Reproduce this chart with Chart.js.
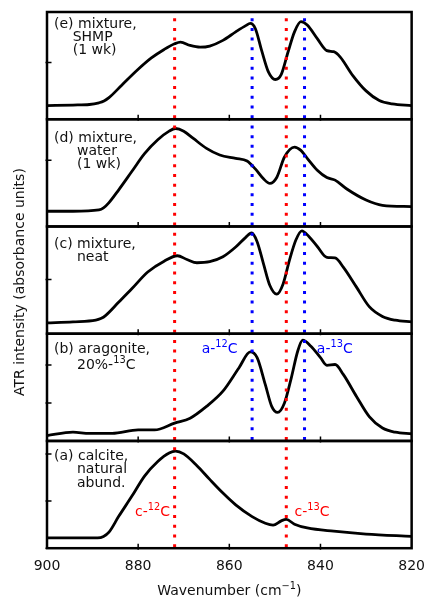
<!DOCTYPE html>
<html>
<head>
<meta charset="utf-8">
<script src="https://cdn.jsdelivr.net/npm/chart.js@4.4.1/dist/chart.umd.min.js"></script>
<style>
  body { margin: 0; background: #fff; }
</style>
</head>
<body>
<canvas id="myChart" width="435" height="598"></canvas>
<script>
// spectra: wavenumber (cm-1) and absorbance for each panel
const waveA = [900, 894.3, 888.9, 887.6, 886.4, 884.3, 881.4, 878.6, 875.7, 873.2, 871.8, 870, 867.1, 864.3, 861.4, 858.6, 855, 852.1, 850.4, 848.6, 847.5, 845.7, 842.9, 837.1, 830, 820];
const absA = [0.022, 0.022, 0.022, 0.025, 0.034, 0.067, 0.110, 0.153, 0.184, 0.202, 0.206, 0.200, 0.175, 0.146, 0.117, 0.092, 0.067, 0.053, 0.049, 0.058, 0.061, 0.051, 0.043, 0.036, 0.030, 0.025];

const waveB = [900, 894.3, 890.7, 885.7, 880, 876.4, 872, 868.6, 865, 861.4, 857.9, 855.4, 853.9, 852.1, 850.7, 849.4, 847.9, 846.4, 845, 843.9, 842.1, 840, 838.6, 836.8, 835, 832.1, 829.3, 826.4, 823.6, 820];
const absB = [0.014, 0.023, 0.020, 0.020, 0.029, 0.029, 0.047, 0.060, 0.091, 0.131, 0.192, 0.234, 0.219, 0.148, 0.091, 0.075, 0.100, 0.166, 0.236, 0.265, 0.249, 0.219, 0.199, 0.201, 0.175, 0.117, 0.064, 0.034, 0.023, 0.019];

const waveC = [900, 894.3, 889.3, 888.2, 887.1, 884.3, 881.4, 877.9, 874.3, 871.4, 869.3, 867.1, 864.3, 861.4, 858.6, 856.4, 855.1, 853.9, 852.5, 851.1, 849.6, 848.2, 846.8, 845.4, 844.1, 842.5, 840.7, 838.6, 836.8, 835, 832.1, 829.3, 826.4, 823.6, 820];
const absC = [0.020, 0.022, 0.025, 0.028, 0.034, 0.058, 0.083, 0.114, 0.134, 0.144, 0.137, 0.131, 0.133, 0.142, 0.160, 0.178, 0.186, 0.170, 0.129, 0.089, 0.073, 0.092, 0.136, 0.173, 0.190, 0.179, 0.161, 0.141, 0.140, 0.123, 0.086, 0.050, 0.032, 0.025, 0.022];

const waveD = [900, 894.3, 888.6, 887.6, 886.4, 884.3, 881.4, 878.6, 875.7, 873.2, 871.8, 870, 867.9, 865, 862.1, 858.6, 856.1, 854.3, 852.5, 851.1, 849.6, 847.9, 845.7, 844.3, 842.9, 840.7, 838.6, 836.8, 834.3, 830, 826.4, 820];
const absD = [0.023, 0.023, 0.025, 0.028, 0.036, 0.055, 0.083, 0.110, 0.131, 0.144, 0.148, 0.144, 0.133, 0.118, 0.108, 0.103, 0.099, 0.087, 0.072, 0.065, 0.074, 0.105, 0.120, 0.115, 0.103, 0.085, 0.074, 0.070, 0.057, 0.040, 0.032, 0.030];

const waveE = [900, 894.3, 890.7, 888.6, 887.5, 886.4, 883.6, 880, 877.1, 874.3, 872, 870.7, 868.6, 866.4, 864.3, 861.4, 858.6, 856.4, 855.4, 854.3, 852.9, 851.4, 849.9, 848.6, 847.1, 845.7, 844.3, 842.9, 840.7, 838.6, 837.1, 835.7, 832.9, 830, 827.1, 824.3, 820];
const absE = [0.024, 0.025, 0.026, 0.029, 0.032, 0.038, 0.060, 0.088, 0.108, 0.123, 0.133, 0.136, 0.130, 0.127, 0.129, 0.139, 0.154, 0.165, 0.169, 0.160, 0.121, 0.083, 0.070, 0.079, 0.119, 0.154, 0.172, 0.166, 0.142, 0.121, 0.119, 0.110, 0.077, 0.050, 0.033, 0.027, 0.024];

const xTicks = [900, 880, 860, 840, 820];
// y tick values per panel (no labels shown)
const yTicksA = [0, 0.1, 0.2];
const yTicksB = [0.1, 0.2];
const yTicksC = [0.1];
const yTicksD = [0.1];
const yTicksE = [0.1];

// band positions (cm-1)
const calciteLines = [872, 847.5];
const aragoniteLines = [855, 843.5];

const panelA = ['(a) calcite,', 'natural', 'abund.'];
const panelB = ['(b) aragonite,', '20%-^{13}C'];
const panelC = ['(c) mixture,', 'neat'];
const panelD = ['(d) mixture,', 'water', '(1 wk)'];
const panelE = ['(e) mixture,', 'SHMP', '(1 wk)'];

const FONT = '"DejaVu Sans", sans-serif';

function pts(xs, ys) {
    return xs.map((x, i) => ({x: x, y: ys[i]}));
}

// draws text with ^{..} superscripts
function richText(ctx, str, x, y, size, align) {
    const parts = str.split(/\^\{([^}]*)\}/);
    let w = 0;
    parts.forEach((p, k) => {
        ctx.font = (k % 2 ? size * 0.7 : size) + 'px ' + FONT;
        w += ctx.measureText(p).width;
    });
    let cx = align === 'right' ? x - w : (align === 'center' ? x - w / 2 : x);
    ctx.textAlign = 'left';
    ctx.textBaseline = 'alphabetic';
    parts.forEach((p, k) => {
        const sup = k % 2 === 1;
        ctx.font = (sup ? size * 0.7 : size) + 'px ' + FONT;
        ctx.fillText(p, cx, sup ? y - size * 0.42 : y);
        cx += ctx.measureText(p).width;
    });
}

const panels = [
    {id: 'ya', ticks: yTicksA, text: panelA, top: 19, indent: 30, gap: 13.5, aragonite: false},
    {id: 'yb', ticks: yTicksB, text: panelB, top: 19.5, indent: 30, gap: 15.5, aragonite: true},
    {id: 'yc', ticks: yTicksC, text: panelC, top: 21.5, indent: 30, gap: 12.8, aragonite: true},
    {id: 'yd', ticks: yTicksD, text: panelD, top: 23.2, indent: 30, gap: 12.6, aragonite: true},
    {id: 'ye', ticks: yTicksE, text: panelE, top: 16.4, indent: 25.7, gap: 12.6, aragonite: true}
];

const bandLabels = [
    {text: 'a-^{12}C', x: 858.2, y: 0.232, axis: 'yb', align: 'right', color: '#0000ff'},
    {text: 'a-^{13}C', x: 840.8, y: 0.232, axis: 'yb', align: 'left', color: '#0000ff'},
    {text: 'c-^{12}C', x: 873, y: 0.069, axis: 'ya', align: 'right', color: '#ff0000'},
    {text: 'c-^{13}C', x: 845.7, y: 0.069, axis: 'ya', align: 'left', color: '#ff0000'}
];

const decor = {
    id: 'decor',
    afterDatasetsDraw(chart) {
        const {ctx, chartArea: ca, scales} = chart;
        const xs = scales.x;
        ctx.save();

        // dotted band lines, per panel
        ctx.lineWidth = 3;
        ctx.setLineDash([3, 6.7]);
        ctx.lineDashOffset = 3.5;
        panels.forEach(p => {
            const s = scales[p.id];
            const sets = [[calciteLines, '#ff0000']];
            if (p.aragonite) sets.push([aragoniteLines, '#0000ff']);
            sets.forEach(([vals, col]) => {
                ctx.strokeStyle = col;
                vals.forEach(v => {
                    const px = xs.getPixelForValue(v);
                    ctx.beginPath();
                    ctx.moveTo(px, s.top);
                    ctx.lineTo(px, s.bottom);
                    ctx.stroke();
                });
            });
        });
        ctx.setLineDash([]);

        // frames and inward ticks
        ctx.strokeStyle = '#000';
        panels.forEach(p => {
            const s = scales[p.id];
            ctx.lineWidth = 2.5;
            ctx.strokeRect(ca.left, s.top, ca.right - ca.left, s.bottom - s.top);
            ctx.lineWidth = 1.5;
            ctx.beginPath();
            xTicks.forEach(v => {
                if (v <= xs.min || v >= xs.max) return;
                const px = xs.getPixelForValue(v);
                ctx.moveTo(px, s.bottom + 1.5);
                ctx.lineTo(px, s.bottom - 4.5);
            });
            p.ticks.forEach(v => {
                const py = s.getPixelForValue(v);
                ctx.moveTo(ca.left - 1.5, py);
                ctx.lineTo(ca.left + 4.5, py);
            });
            ctx.stroke();

            // panel caption
            ctx.fillStyle = '#111';
            p.text.forEach((line, k) => {
                const x = ca.left + (k === 0 ? 7 : p.indent);
                richText(ctx, line, x, s.top + p.top + k * p.gap, 14, 'left');
            });
        });

        // band labels
        bandLabels.forEach(b => {
            ctx.fillStyle = b.color;
            richText(ctx, b.text, xs.getPixelForValue(b.x), scales[b.axis].getPixelForValue(b.y), 14, b.align);
        });

        // axis titles
        ctx.fillStyle = '#111';
        richText(ctx, 'Wavenumber (cm^{\u22121})', (ca.left + ca.right) / 2, ca.bottom + 47, 14, 'center');
        ctx.translate(24, (ca.top + ca.bottom) / 2 + 2);
        ctx.rotate(-Math.PI / 2);
        richText(ctx, 'ATR intensity (absorbance units)', 0, 0, 14, 'center');
        ctx.restore();
    }
};

const yAxis = (max) => ({
    type: 'linear',
    position: 'left',
    stack: 'panels',
    stackWeight: 1,
    min: 0,
    max: max,
    ticks: {display: false},
    grid: {display: false, drawTicks: false},
    border: {display: false}
});

const line = (xs, ys, axis) => ({
    data: pts(xs, ys),
    yAxisID: axis,
    borderColor: '#000',
    borderWidth: 2.8,
    pointRadius: 0,
    fill: false,
    cubicInterpolationMode: 'monotone'
});

let myChart = document.getElementById('myChart').getContext('2d');
let spectraChart = new Chart(myChart, {
    type: 'line',
    data: {
        datasets: [
            line(waveA, absA, 'ya'),
            line(waveB, absB, 'yb'),
            line(waveC, absC, 'yc'),
            line(waveD, absD, 'yd'),
            line(waveE, absE, 'ye')
        ]
    },
    options: {
        responsive: false,
        animation: false,
        devicePixelRatio: 1,
        layout: {padding: {left: 47, right: 15, top: 12, bottom: 13}},
        scales: {
            x: {
                type: 'linear',
                min: 820,
                max: 900,
                reverse: true,
                afterBuildTicks: (scale) => { scale.ticks = xTicks.map(v => ({value: v})); },
                ticks: {
                    font: {size: 14, family: FONT},
                    color: '#111',
                    padding: 10
                },
                grid: {display: false, drawTicks: false},
                border: {display: false}
            },
            ya: yAxis(0.2275),
            yb: yAxis(0.282),
            yc: yAxis(0.198),
            yd: yAxis(0.162),
            ye: yAxis(0.189)
        },
        plugins: {
            legend: {display: false},
            tooltip: {enabled: false}
        }
    },
    plugins: [decor]
});
</script>
</body>
</html>
